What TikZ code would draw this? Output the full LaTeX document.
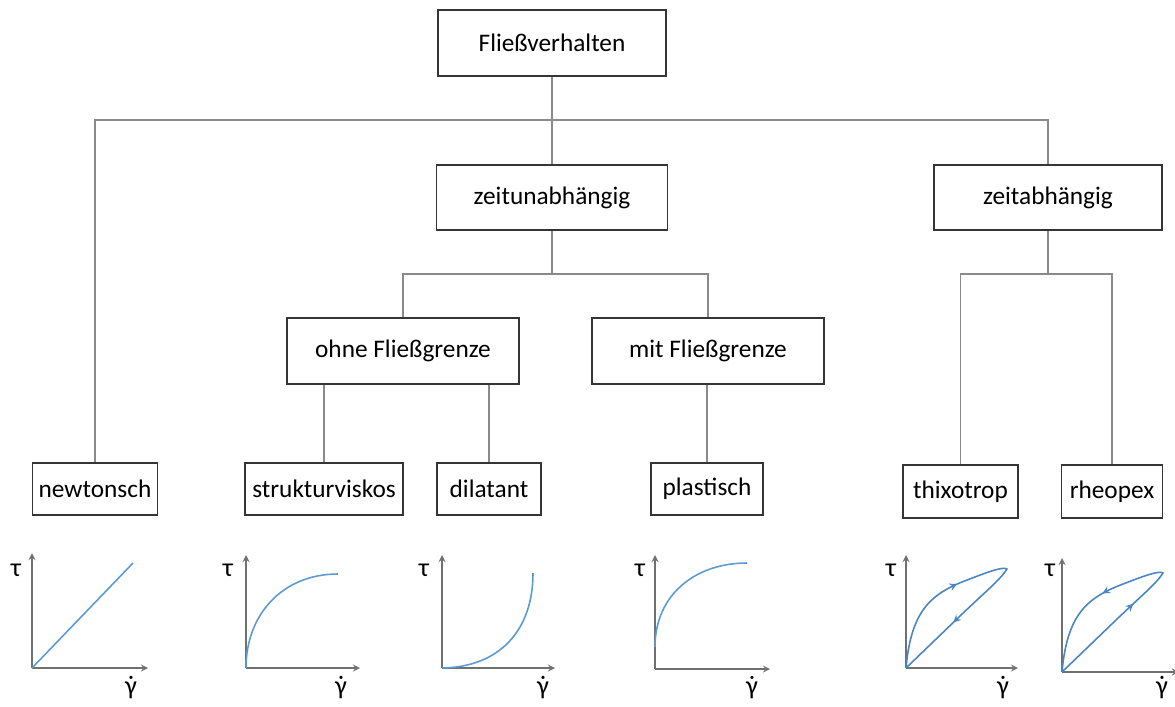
\documentclass[tikz,border=0pt]{standalone}
\usepackage{fontspec}
\setmainfont{Carlito}
\usetikzlibrary{decorations.markings}
\definecolor{boxgray}{HTML}{353535}
\definecolor{linkgray}{HTML}{8A8A8A}
\definecolor{axisgray}{HTML}{707070}
\definecolor{curveblue}{HTML}{5B9BD5}
\definecolor{loopblue}{HTML}{4A86C5}
\newcommand{\gdot}{\ooalign{γ\cr\hidewidth˙\hidewidth\cr}}

\begin{document}
\begin{tikzpicture}[x=0.02cm, y=-0.02cm,
	box/.style={draw=boxgray, line width=1.1pt, inner sep=0pt, font=\fontsize{14.4}{17}\selectfont},
	link/.style={draw=linkgray, line width=0.6pt},
	axis/.style={draw=axisgray, line width=0.8pt, -stealth},
	curve/.style={draw=curveblue, line width=0.9pt},
	loopline/.style={draw=loopblue, line width=0.9pt, line join=round},
	lbl/.style={font=\fontsize{15}{17}\selectfont}]
	\useasboundingbox (0,0) rectangle (1175,706);
	\node[box, minimum width=4.56cm, minimum height=1.32cm] (fv) at (552,43) {Fließverhalten};
	\node[box, minimum width=4.62cm, minimum height=1.3cm] (zu) at (552,197.5) {zeitunabhängig};
	\node[box, minimum width=4.56cm, minimum height=1.3cm] (za) at (1048,197.5) {zeitabhängig};
	\node[box, minimum width=4.64cm, minimum height=1.32cm] (ohne) at (403,351) {ohne Fließgrenze};
	\node[box, minimum width=4.64cm, minimum height=1.32cm] (mit) at (708,351) {mit Fließgrenze};
	\node[box, minimum width=2.5cm, minimum height=1.04cm] (newt) at (95,489) {newtonsch};
	\node[box, minimum width=3.16cm, minimum height=1.04cm] (struk) at (324,489) {strukturviskos};
	\node[box, minimum width=2.08cm, minimum height=1.04cm] (dil) at (489,489) {dilatant};
	\node[box, minimum width=2.24cm, minimum height=1.04cm] (plast) at (707,489) {plastisch};
	\node[box, minimum width=2.3cm, minimum height=1.06cm] (thixo) at (960.5,491.5) {thixotrop};
	\node[box, minimum width=2.02cm, minimum height=1.06cm] (rheo) at (1112,491.5) {rheopex};
	\coordinate (bar) at (552,120);
	\coordinate (barzu) at (552,274);
	\coordinate (barza) at (1048,274);
	\draw[link] (fv.south) -- (zu.north);
	\draw[link] (newt.north) |- (bar) -| (za.north);
	\draw[link] (zu.south) -- (barzu);
	\draw[link] (ohne.north) |- (barzu) -| (mit.north);
	\draw[link] (za.south) -- (barza);
	\draw[link] (thixo.north) |- (barza) -| (rheo.north);
	\draw[link] (struk.north) -- (struk.north |- ohne.south);
	\draw[link] (dil.north) -- (dil.north |- ohne.south);
	\draw[link] (plast.north) -- (plast.north |- mit.south);
	\foreach \n/\ox/\oy/\xe/\yt/\tx/\gx in {1/32/668/148/553/16/131, 2/246/668/360/555/228/341, 3/442/668/555/555/424/543, 4/655/669/770/555/640/752, 5/906/668/1018/555/891/1003, 6/1062/672/1179/558/1050/1162}{
		\coordinate (o\n) at (\ox,\oy);
		\draw[axis] (o\n) -- (\ox,\yt);
		\draw[axis] (o\n) -- (\xe,\oy);
		\node[lbl] (tau\n) at (\tx,570) {τ};
		\node[lbl] (gam\n) at (\gx,688) {\gdot};
	}
	\draw[curve] (o1) -- (133,563);
	\draw[curve] (o2) .. controls (246,615) and (282,574) .. (338,574);
	\draw[curve] (o3) .. controls (500,667) and (533,630) .. (533,573);
	\draw[curve] (655,647) .. controls (655,595) and (695,563) .. (747,563);
	\draw[loopline, postaction={decorate, decoration={markings,
		mark=at position 0.35 with {\arrow{stealth}},
		mark=at position 0.78 with {\arrow{stealth}}}}]
		(o5) .. controls (911,612) and (930,595) .. (962,582) .. controls (985,573) and (1003,566) .. (1007,569)
		.. controls (1000,580) and (985,592) .. (960,616) -- (o5);
	\draw[loopline, postaction={decorate, decoration={markings,
		mark=at position 0.31 with {\arrowreversed{stealth}},
		mark=at position 0.67 with {\arrowreversed{stealth}}}}]
		(o6) .. controls (1067,616) and (1086,599) .. (1118,586) .. controls (1141,577) and (1159,570) .. (1163,573)
		.. controls (1156,584) and (1141,596) .. (1116,620) -- (o6);
\end{tikzpicture}
\end{document}
